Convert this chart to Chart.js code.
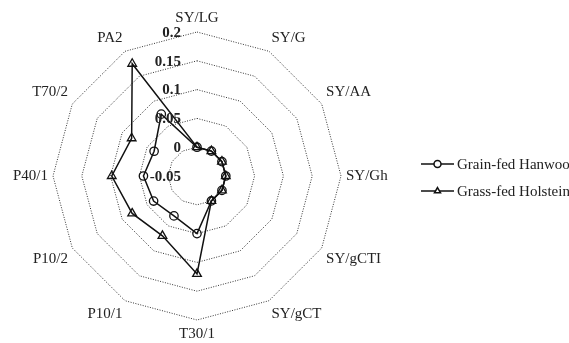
<!DOCTYPE html>
<html>
<head>
<meta charset="utf-8">
<script src="https://cdn.jsdelivr.net/npm/chart.js@4.4.1/dist/chart.umd.min.js"></script>
<style>
    html, body { margin: 0; padding: 0; background: #fff; }
    #wrap { width: 569px; height: 343px; position: relative; }
</style>
</head>
<body>
<div id="wrap"><canvas id="radarChart"></canvas></div>
<script>
// Axis names, clockwise from the top
const axisLabels = ['SY/LG', 'SY/G', 'SY/AA', 'SY/Gh', 'SY/gCTI', 'SY/gCT',
    'T30/1', 'P10/1', 'P10/2', 'P40/1', 'T70/2', 'PA2'];

const grainFedHanwoo = [0, 0, 0, 0, 0, 0, 0.05, 0.03, 0.037, 0.043, 0.036, 0.074];
const grassFedHolstein = [0, 0, 0, 0, 0, 0, 0.12, 0.07, 0.08, 0.098, 0.081, 0.175];

const seriesNames = ['Grain-fed Hanwoo', 'Grass-fed Holstein'];

const scaleMin = -0.05;
const scaleMax = 0.2;
const scaleStep = 0.05;

const serif = '"Liberation Serif", "Times New Roman", serif';

// Tick values are printed to the left of the top spoke
const tickLabelsPlugin = {
    id: 'tickLabels',
    afterDatasetsDraw(chart) {
        const scale = chart.scales.r;
        const ctx = chart.ctx;
        ctx.save();
        ctx.font = 'bold 15px ' + serif;
        ctx.fillStyle = '#222';
        ctx.textAlign = 'right';
        ctx.textBaseline = 'middle';
        scale.ticks.forEach(t => {
            const d = scale.getDistanceFromCenterForValue(t.value);
            const label = Math.abs(t.value) < 1e-9 ? '0' : String(+t.value.toFixed(2));
            ctx.fillText(label, scale.xCenter - 16, scale.yCenter - d + 1);
        });
        ctx.restore();
    }
};

// Legend entries: short line with the series marker in its middle
const lineLegendPlugin = {
    id: 'lineLegend',
    afterDraw(chart) {
        const ctx = chart.ctx;
        const x0 = 421, lineW = 33, y0 = 164, gap = 27;
        ctx.save();
        ctx.font = '15px ' + serif;
        ctx.textBaseline = 'middle';
        ctx.textAlign = 'left';
        chart.data.datasets.forEach((ds, i) => {
            const y = y0 + i * gap;
            ctx.strokeStyle = '#111';
            ctx.lineWidth = 1.5;
            ctx.beginPath();
            ctx.moveTo(x0, y);
            ctx.lineTo(x0 + lineW, y);
            ctx.stroke();
            ctx.fillStyle = '#fff';
            Chart.helpers.drawPoint(ctx, {
                pointStyle: ds.pointStyle,
                radius: 3.5,
                borderWidth: 1.5
            }, x0 + lineW / 2, y);
            ctx.fillStyle = '#222';
            ctx.fillText(ds.label, x0 + lineW + 3, y + 1);
        });
        ctx.restore();
    }
};

new Chart(document.getElementById('radarChart'), {
    type: 'radar',
    data: {
        labels: axisLabels,
        datasets: [
            {
                label: seriesNames[0],
                data: grainFedHanwoo,
                borderColor: '#111',
                borderWidth: 1.5,
                backgroundColor: 'rgba(0,0,0,0)',
                fill: false,
                pointStyle: 'circle',
                pointRadius: 4.2,
                pointBorderWidth: 1.3,
                pointBorderColor: '#111',
                pointBackgroundColor: 'rgba(255,255,255,0)'
            },
            {
                label: seriesNames[1],
                data: grassFedHolstein,
                borderColor: '#111',
                borderWidth: 1.5,
                backgroundColor: 'rgba(0,0,0,0)',
                fill: false,
                pointStyle: 'triangle',
                pointRadius: 5,
                pointBorderWidth: 1.3,
                pointBorderColor: '#111',
                pointBackgroundColor: 'rgba(255,255,255,0)'
            }
        ]
    },
    options: {
        responsive: true,
        maintainAspectRatio: false,
        animation: false,
        layout: {
            padding: { left: 2, right: 170, top: 9, bottom: 0 }
        },
        plugins: {
            legend: { display: false },
            tooltip: { enabled: false }
        },
        scales: {
            r: {
                min: scaleMin,
                max: scaleMax,
                ticks: {
                    stepSize: scaleStep,
                    display: false
                },
                angleLines: { display: false },
                grid: {
                    circular: false,
                    color: '#333',
                    lineWidth: 1
                },
                border: {
                    dash: [1, 1.5]
                },
                pointLabels: {
                    color: '#222',
                    padding: 5,
                    font: { family: serif, size: 15 }
                }
            }
        }
    },
    plugins: [tickLabelsPlugin, lineLegendPlugin]
});
</script>
</body>
</html>
